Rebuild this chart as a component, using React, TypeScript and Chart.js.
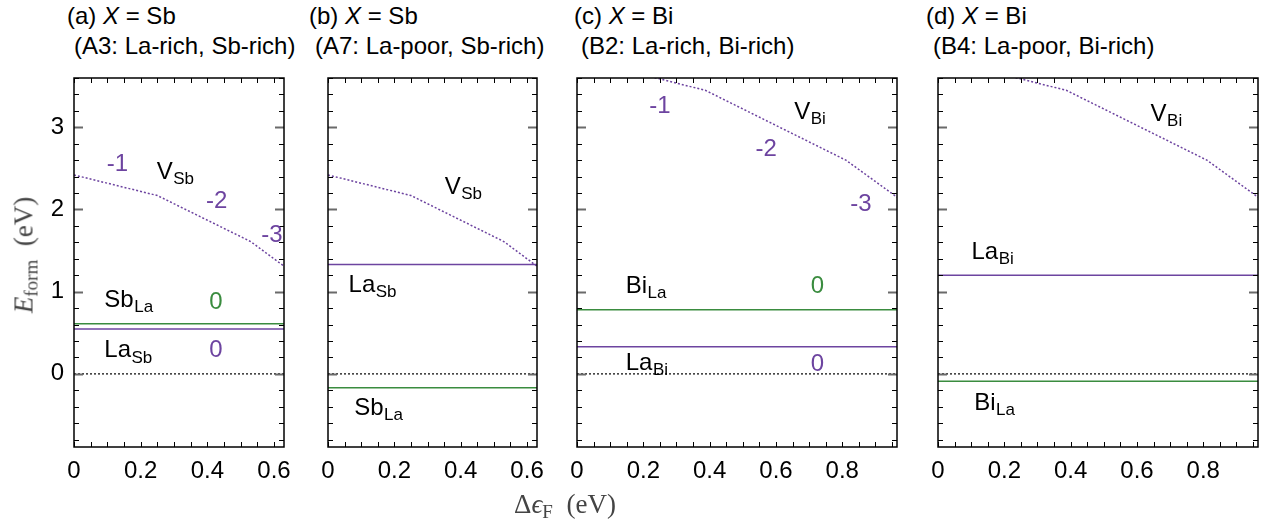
import React, { useEffect, useRef } from 'react';
import { Chart, registerables } from 'chart.js';
Chart.register(...registerables);

const PURPLE = '#6d44a0';
const GREEN = '#3a8c3f';
const SANS = '"Liberation Sans", Arial, Helvetica, sans-serif';
const SERIF = '"Liberation Serif", "Times New Roman", serif';

// ---- axis ranges / ticks ----
const yMin = -0.89;
const yMax = 3.6;
const yTickValues = [0, 1, 2, 3];
const xTicksSb = [0, 0.2, 0.4, 0.6];
const xTicksBi = [0, 0.2, 0.4, 0.6, 0.8];
const xMaxSb = 0.63;
const xMaxBi = 0.965;

// ---- panel (a): X = Sb, A3 ----
const aVacX = [0, 0.25, 0.53, 0.63];
const aVacY = [2.42, 2.17, 1.61, 1.31];
const aSbLa = 0.61;
const aLaSb = 0.545;

// ---- panel (b): X = Sb, A7 ----
const bVacX = [0, 0.25, 0.53, 0.63];
const bVacY = [2.42, 2.17, 1.61, 1.31];
const bSbLa = -0.17;
const bLaSb = 1.33;

// ---- panel (c): X = Bi, B2 ----
const cVacX = [0, 0.387, 0.811, 0.965];
const cVacY = [3.84, 3.45, 2.6, 2.15];
const cBiLa = 0.78;
const cLaBi = 0.33;

// ---- panel (d): X = Bi, B4 ----
const dVacX = [0, 0.387, 0.811, 0.965];
const dVacY = [3.84, 3.45, 2.6, 2.15];
const dBiLa = -0.09;
const dLaBi = 1.2;

type Lab = { t: string; s?: string; x: number; y: number; c: string };

const labelsA: Lab[] = [
  { t: '-1', x: 0.098, y: 2.55, c: PURPLE },
  { t: 'V', s: 'Sb', x: 0.248, y: 2.45, c: '#000' },
  { t: '-2', x: 0.396, y: 2.1, c: PURPLE },
  { t: '-3', x: 0.562, y: 1.68, c: PURPLE },
  { t: 'Sb', s: 'La', x: 0.091, y: 0.89, c: '#000' },
  { t: '0', x: 0.406, y: 0.87, c: GREEN },
  { t: 'La', s: 'Sb', x: 0.091, y: 0.28, c: '#000' },
  { t: '0', x: 0.406, y: 0.29, c: PURPLE },
];
const labelsB: Lab[] = [
  { t: 'V', s: 'Sb', x: 0.352, y: 2.27, c: '#000' },
  { t: 'La', s: 'Sb', x: 0.062, y: 1.08, c: '#000' },
  { t: 'Sb', s: 'La', x: 0.079, y: -0.42, c: '#000' },
];
const labelsC: Lab[] = [
  { t: '-1', x: 0.218, y: 3.26, c: PURPLE },
  { t: 'V', s: 'Bi', x: 0.655, y: 3.18, c: '#000' },
  { t: '-2', x: 0.538, y: 2.73, c: PURPLE },
  { t: '-3', x: 0.824, y: 2.06, c: PURPLE },
  { t: 'Bi', s: 'La', x: 0.147, y: 1.07, c: '#000' },
  { t: '0', x: 0.705, y: 1.07, c: GREEN },
  { t: 'La', s: 'Bi', x: 0.147, y: 0.13, c: '#000' },
  { t: '0', x: 0.705, y: 0.11, c: PURPLE },
];
const labelsD: Lab[] = [
  { t: 'V', s: 'Bi', x: 0.641, y: 3.16, c: '#000' },
  { t: 'La', s: 'Bi', x: 0.101, y: 1.48, c: '#000' },
  { t: 'Bi', s: 'La', x: 0.109, y: -0.355, c: '#000' },
];

type PanelCfg = {
  L: number; R: number; T: number; B: number;
  xMax: number; xTicks: number[];
  vacX: number[]; vacY: number[];
  green: number; purple: number;
  labels: Lab[];
  showY: boolean;
};

const T0 = 78;
const B0 = 447;
const panels: PanelCfg[] = [
  { L: 74, R: 284, T: T0, B: B0, xMax: xMaxSb, xTicks: xTicksSb, vacX: aVacX, vacY: aVacY, green: aSbLa, purple: aLaSb, labels: labelsA, showY: true },
  { L: 328, R: 537, T: T0, B: B0, xMax: xMaxSb, xTicks: xTicksSb, vacX: bVacX, vacY: bVacY, green: bSbLa, purple: bLaSb, labels: labelsB, showY: false },
  { L: 577, R: 897, T: T0, B: B0, xMax: xMaxBi, xTicks: xTicksBi, vacX: cVacX, vacY: cVacY, green: cBiLa, purple: cLaBi, labels: labelsC, showY: false },
  { L: 938, R: 1258, T: T0, B: B0, xMax: xMaxBi, xTicks: xTicksBi, vacX: dVacX, vacY: dVacY, green: dBiLa, purple: dLaBi, labels: labelsD, showY: false },
];

const AXW = 60;
const AXH = 50;
const PADT = 6;
const PADR = 12;

const framePlugin = {
  id: 'frameTicks',
  afterDatasetsDraw(chart: any) {
    const { ctx, chartArea, scales } = chart;
    const { left, right, top, bottom } = chartArea;
    const xs = scales.x;
    const ys = scales.y;
    ctx.save();
    ctx.strokeStyle = '#000';
    ctx.lineWidth = 1;
    for (let i = 0; i * 0.05 <= xs.max + 1e-9; i++) {
      const px = Math.round(xs.getPixelForValue(i * 0.05)) + 0.5;
      ctx.beginPath();
      ctx.moveTo(px, bottom);
      ctx.lineTo(px, bottom - 5);
      ctx.moveTo(px, top);
      ctx.lineTo(px, top + 5);
      ctx.stroke();
    }
    for (let i = -4; i * 0.2 <= ys.max + 1e-9; i++) {
      const v = i * 0.2;
      if (v < ys.min - 1e-9) continue;
      const py = Math.round(ys.getPixelForValue(v)) + 0.5;
      const major = i % 5 === 0;
      ctx.strokeStyle = major ? '#6a6a6a' : '#000';
      ctx.lineWidth = major ? 2 : 1;
      const len = major ? 9 : 5;
      ctx.beginPath();
      ctx.moveTo(left, py);
      ctx.lineTo(left + len, py);
      ctx.moveTo(right, py);
      ctx.lineTo(right - len, py);
      ctx.stroke();
    }
    ctx.strokeStyle = '#000';
    ctx.lineWidth = 1.5;
    ctx.strokeRect(left, top, right - left, bottom - top);
    ctx.restore();
  },
};

const labelPlugin = {
  id: 'defectLabels',
  afterDatasetsDraw(chart: any, _args: any, opts: any) {
    const labels: Lab[] = opts.labels || [];
    const { ctx, scales } = chart;
    ctx.save();
    ctx.textBaseline = 'middle';
    ctx.textAlign = 'left';
    for (const l of labels) {
      const px = scales.x.getPixelForValue(l.x);
      const py = scales.y.getPixelForValue(l.y);
      ctx.fillStyle = l.c;
      ctx.font = `24px ${SANS}`;
      ctx.fillText(l.t, px, py);
      if (l.s) {
        const w = ctx.measureText(l.t).width;
        ctx.font = `17px ${SANS}`;
        ctx.fillText(l.s, px + w + 0.5, py + 7);
      }
    }
    ctx.restore();
  },
};

function Panel({ cfg }: { cfg: PanelCfg }) {
  const ref = useRef<HTMLCanvasElement>(null);
  const width = cfg.R - cfg.L + AXW + PADR;
  const height = cfg.B - cfg.T + AXH + PADT;
  useEffect(() => {
    if (!ref.current) return;
    const hline = (v: number) => [
      { x: 0, y: v },
      { x: cfg.xMax, y: v },
    ];
    const chart = new Chart(ref.current, {
      type: 'line',
      data: {
        datasets: [
          { data: hline(0), borderColor: '#333', borderWidth: 1.5, borderDash: [2, 2], pointRadius: 0 },
          { data: hline(cfg.green), borderColor: GREEN, borderWidth: 1.5, pointRadius: 0 },
          { data: hline(cfg.purple), borderColor: PURPLE, borderWidth: 1.5, pointRadius: 0 },
          {
            data: cfg.vacX.map((x, i) => ({ x, y: cfg.vacY[i] })),
            borderColor: PURPLE,
            borderWidth: 1.5,
            borderDash: [2, 2],
            pointRadius: 0,
          },
        ],
      },
      options: {
        animation: false,
        responsive: false,
        devicePixelRatio: 1,
        layout: { padding: { top: PADT, right: PADR, left: 0, bottom: 0 } },
        plugins: {
          legend: { display: false },
          tooltip: { enabled: false },
          defectLabels: { labels: cfg.labels },
        } as any,
        scales: {
          x: {
            type: 'linear',
            min: 0,
            max: cfg.xMax,
            grid: { display: false, drawTicks: false },
            border: { display: false },
            ticks: {
              color: '#000',
              font: { family: SANS, size: 24 },
              padding: 10,
              autoSkip: false,
              maxRotation: 0,
              callback: (v: any) => String(Number(v)),
            },
            afterBuildTicks: (s: any) => {
              s.ticks = cfg.xTicks.map((value) => ({ value }));
            },
            afterFit: (s: any) => {
              s.height = AXH;
              s.paddingLeft = 0;
              s.paddingRight = 0;
              s.paddingTop = 0;
              s.paddingBottom = 0;
            },
          },
          y: {
            type: 'linear',
            min: yMin,
            max: yMax,
            grid: { display: false, drawTicks: false },
            border: { display: false },
            ticks: {
              display: cfg.showY,
              color: '#000',
              font: { family: SANS, size: 24 },
              padding: 10,
              callback: (v: any) => String(Number(v)),
            },
            afterBuildTicks: (s: any) => {
              s.ticks = yTickValues.map((value) => ({ value }));
            },
            afterFit: (s: any) => {
              s.width = AXW;
              s.paddingTop = 0;
              s.paddingBottom = 0;
              s.paddingLeft = 0;
              s.paddingRight = 0;
            },
          },
        },
      },
      plugins: [framePlugin, labelPlugin],
    });
    return () => chart.destroy();
  }, [cfg]);
  return (
    <canvas
      ref={ref}
      width={width}
      height={height}
      style={{ position: 'absolute', left: cfg.L - AXW, top: cfg.T - PADT, width, height }}
    />
  );
}

const titleStyle: React.CSSProperties = {
  position: 'absolute',
  fontFamily: SANS,
  fontSize: 24,
  lineHeight: '24px',
  whiteSpace: 'nowrap',
  color: '#000',
};

const titles = [
  { l1: '(a) ', el: ' = Sb', x1: 67, l2: '(A3: La-rich, Sb-rich)', x2: 74 },
  { l1: '(b) ', el: ' = Sb', x1: 309, l2: '(A7: La-poor, Sb-rich)', x2: 315 },
  { l1: '(c) ', el: ' = Bi', x1: 574, l2: '(B2: La-rich, Bi-rich)', x2: 581 },
  { l1: '(d) ', el: ' = Bi', x1: 926, l2: '(B4: La-poor, Bi-rich)', x2: 933 },
];

export default function App() {
  return (
    <div style={{ position: 'absolute', left: 0, top: 0, width: 1273, height: 531, background: '#fff', overflow: 'hidden' }}>
      {titles.map((t, i) => (
        <React.Fragment key={i}>
          <div style={{ ...titleStyle, left: t.x1, top: 4 }}>
            {t.l1}
            <i>X</i>
            {t.el}
          </div>
          <div style={{ ...titleStyle, left: t.x2, top: 34 }}>{t.l2}</div>
        </React.Fragment>
      ))}
      {panels.map((p, i) => (
        <Panel key={i} cfg={p} />
      ))}
      <div
        style={{
          position: 'absolute',
          left: 25,
          top: 255,
          transform: 'translate(-50%, -50%) rotate(-90deg)',
          fontFamily: SERIF,
          fontSize: 27,
          lineHeight: '27px',
          whiteSpace: 'nowrap',
          color: '#444',
        }}
      >
        <i>E</i>
        <span style={{ fontSize: 19, position: 'relative', top: 5 }}>form</span>
        {'\u2002(eV)'}
      </div>
      <div
        style={{
          position: 'absolute',
          left: 565,
          top: 505,
          transform: 'translate(-50%, -50%)',
          fontFamily: SERIF,
          fontSize: 27,
          lineHeight: '27px',
          whiteSpace: 'nowrap',
          color: '#444',
        }}
      >
        {'\u0394'}
        <i>{'\u03f5'}</i>
        <span style={{ fontSize: 19, position: 'relative', top: 5 }}>F</span>
        {'\u2002(eV)'}
      </div>
    </div>
  );
}
